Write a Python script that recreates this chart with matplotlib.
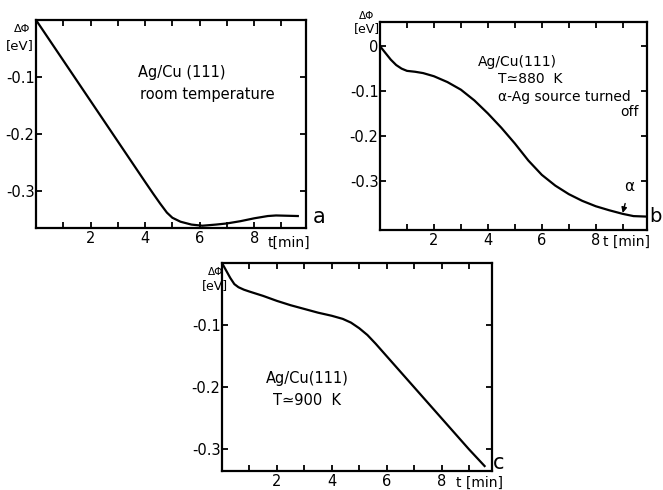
import matplotlib
matplotlib.use('Agg')
import matplotlib.pyplot as plt

# panel a: room temperature
t_a = [0.0, 1.0, 2.0, 3.0, 4.0, 4.3, 4.55, 4.8, 5.0, 5.3, 5.7, 6.1, 6.6, 7.0, 7.5, 8.0, 8.5, 8.8, 9.6]
dphi_a = [0.0, -0.071, -0.142, -0.213, -0.284, -0.305, -0.322, -0.338, -0.347, -0.354, -0.359, -0.361,
          -0.359, -0.357, -0.353, -0.348, -0.344, -0.343, -0.344]

# panel b: T ~ 880 K, source turned off
t_b = [0.0, 0.2, 0.4, 0.6, 0.8, 1.0, 1.3, 1.6, 2.0, 2.5, 3.0, 3.5, 4.0, 4.5, 5.0, 5.5, 6.0, 6.5,
       7.0, 7.5, 8.0, 8.5, 9.0, 9.4, 9.85]
dphi_b = [0.0, -0.015, -0.03, -0.042, -0.05, -0.055, -0.057, -0.060, -0.067, -0.080, -0.097, -0.121,
          -0.150, -0.182, -0.217, -0.255, -0.287, -0.311, -0.330, -0.345, -0.357, -0.366, -0.374,
          -0.379, -0.380]

# panel c: T ~ 900 K
t_c = [0.0, 0.1, 0.2, 0.3, 0.45, 0.6, 0.8, 1.0, 1.5, 2.0, 2.5, 3.0, 3.5, 4.0, 4.4, 4.7, 5.0, 5.3,
       5.6, 6.0, 6.5, 7.0, 7.5, 8.0, 8.5, 9.0, 9.57]
dphi_c = [0.0, -0.008, -0.016, -0.024, -0.034, -0.039, -0.043, -0.046, -0.053, -0.061, -0.068, -0.074,
          -0.080, -0.085, -0.090, -0.096, -0.105, -0.116, -0.130, -0.150, -0.175, -0.200, -0.225,
          -0.250, -0.275, -0.300, -0.327]

xticks = [1, 2, 3, 4, 5, 6, 7, 8, 9]
xticklabels = ['', '2', '', '4', '', '6', '', '8', '']

W, H = 663, 490


def px(x, y):
    return x / W, 1 - y / H


def rect(l, t, r, b):
    return [l / W, 1 - b / H, (r - l) / W, (b - t) / H]


fig = plt.figure(figsize=(6.63, 4.9), dpi=100)


def panel(box, t, dphi, xmax, ylim, yticks, yticklabels):
    ax = fig.add_axes(box)
    ax.plot(t, dphi, color='black', lw=1.6)
    ax.set_xlim(0, xmax)
    ax.set_ylim(*ylim)
    ax.set_xticks(xticks)
    ax.set_xticklabels(xticklabels)
    ax.set_yticks(yticks)
    ax.set_yticklabels(yticklabels)
    ax.tick_params(direction='in', top=True, right=True, length=4, width=1.3,
                   labelsize=10.5, pad=2)
    ax.tick_params(axis='y', pad=1)
    for s in ax.spines.values():
        s.set_linewidth(1.6)
    return ax


# a
ax_a = panel(rect(36, 20, 306, 228), t_a, dphi_a, 9.9, (-0.365, 0.0),
             [-0.1, -0.2, -0.3], ['-0.1', '-0.2', '-0.3'])
fig.text(*px(138, 73), 'Ag/Cu (111)', fontsize=10.5, va='center')
fig.text(*px(140, 95), 'room temperature', fontsize=10.5, va='center')
fig.text(*px(22, 29), 'ΔΦ', fontsize=8, ha='center', va='center')
fig.text(*px(20, 46), '[eV]', fontsize=9.5, ha='center', va='center')
fig.text(*px(268, 243), 't[min]', fontsize=10, ha='left', va='center')
fig.text(*px(319, 217), 'a', fontsize=15, ha='center', va='center')

# b
ax_b = panel(rect(380, 22, 647, 230), t_b, dphi_b, 9.9, (-0.41, 0.054),
             [0.0, -0.1, -0.2, -0.3], ['0', '-0.1', '-0.2', '-0.3'])
fig.text(*px(478, 62), 'Ag/Cu(111)', fontsize=10, va='center')
fig.text(*px(498, 79), 'T≃880  K', fontsize=10, va='center')
fig.text(*px(498, 97), 'α-Ag source turned', fontsize=10, va='center')
fig.text(*px(639, 112), 'off', fontsize=10, ha='right', va='center')
ax_b.annotate('α', xy=(9.0, -0.372), xytext=(9.25, -0.313), fontsize=11,
              ha='center', va='center',
              arrowprops=dict(arrowstyle='-|>', color='black', lw=1.0, mutation_scale=8,
                              shrinkA=5, shrinkB=0))
fig.text(*px(367, 16), 'ΔΦ', fontsize=7.5, ha='center', va='center')
fig.text(*px(367, 29), '[eV]', fontsize=9, ha='center', va='center')
fig.text(*px(603, 242), 't [min]', fontsize=10, ha='left', va='center')
fig.text(*px(655, 216), 'b', fontsize=14, ha='center', va='center')

# c
ax_c = panel(rect(222, 263, 492, 471), t_c, dphi_c, 9.84, (-0.335, 0.0),
             [-0.1, -0.2, -0.3], ['-0.1', '-0.2', '-0.3'])
fig.text(*px(266, 378), 'Ag/Cu(111)', fontsize=10.5, va='center')
fig.text(*px(273, 400), 'T≃900  K', fontsize=10.5, va='center')
fig.text(*px(216, 272), 'ΔΦ', fontsize=7.5, ha='center', va='center')
fig.text(*px(215, 286), '[eV]', fontsize=9, ha='center', va='center')
fig.text(*px(456, 483), 't [min]', fontsize=10, ha='left', va='center')
fig.text(*px(499, 463), 'c', fontsize=15, ha='center', va='center')

fig.savefig('out.png', dpi=100)
